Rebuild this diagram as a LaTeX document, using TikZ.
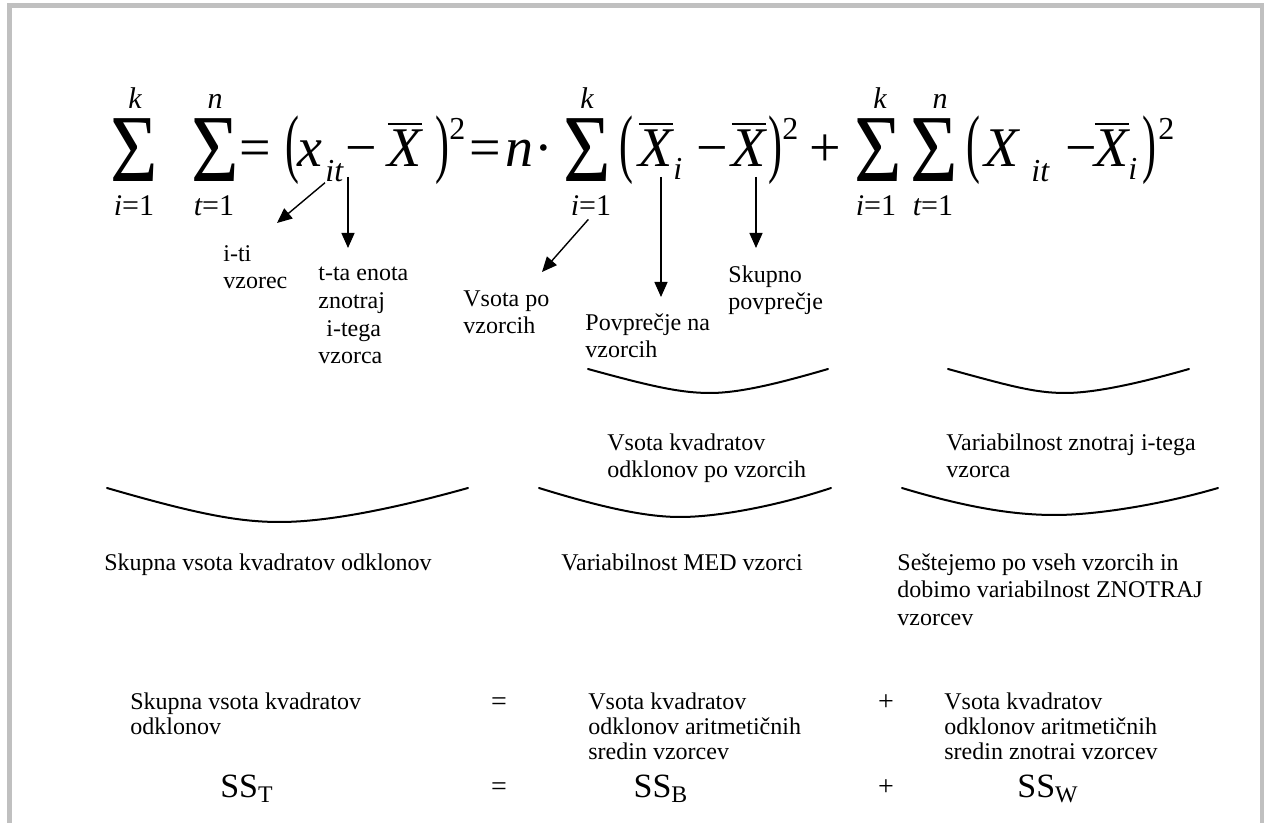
\documentclass[tikz,border=0pt]{standalone}
\usepackage{fontspec}
\setmainfont{Liberation Serif}
\usetikzlibrary{arrows.meta}
\definecolor{framegray}{RGB}{192,192,192}
\newcommand{\obar}[1]{\vbox{\hrule height 1pt\kern 2.5pt\hbox{#1}}}

\begin{document}
\begin{tikzpicture}[x=0.5pt, y=-0.5pt,
    fml/.style={inner sep=0pt, anchor=base, font=\fontsize{28}{30}\selectfont},
    sig/.style={inner sep=0pt, font=\fontsize{48}{48}\selectfont},
    paren/.style={inner sep=0pt, font=\fontsize{38}{38}\selectfont},
    lim/.style={inner sep=0pt, anchor=base, font=\fontsize{15}{15}\selectfont},
    sub/.style={inner sep=0pt, anchor=base west, font=\fontsize{16}{16}\selectfont},
    txt/.style={inner sep=0pt, anchor=north west, align=left, font=\fontsize{12}{13.8}\selectfont},
    btxt/.style={txt, font=\fontsize{12}{12.5}\selectfont},
    big/.style={inner sep=0pt, anchor=base, font=\fontsize{17}{17}\selectfont},
    op/.style={inner sep=0pt, anchor=base, font=\fontsize{14}{14}\selectfont},
    arr/.style={-{Triangle[length=7.5pt,width=6.5pt]}, line width=0.7pt},
    brace/.style={line width=1pt, line cap=round}]
    \useasboundingbox (0,0) rectangle (1264,823);
    \draw[framegray, line width=2.5pt] (9.5,823) -- (9.5,5.5) -- (1262,5.5) -- (1262,823); % page frame

    % formula
    \node[sig] (s1) at (134,150) {\scalebox{0.85}[1]{Σ}};
    \node[lim] (up1) at (135,109) {\itshape k}; \node[lim] (lo1) at (134,216) {{\itshape i}=1};
    \node[sig] (s2) at (215,150) {\scalebox{0.85}[1]{Σ}};
    \node[lim] (up2) at (215,109) {\itshape n}; \node[lim] (lo2) at (214,216) {{\itshape t}=1};
    \node[fml] (eq1) at (255,167) {=};
    \node[paren] (p1) at (292,150) {\scalebox{0.55}[1]{(}};
    \node[fml] (x1) at (310,167) {\itshape x}; \node[sub] (sub1) at (325,182) {\itshape it};
    \node[fml] (m1) at (361,167) {−};
    \node[fml] (xb1) at (405,167) {\itshape\obar{X}};
    \node[paren] (q1) at (442,150) {\scalebox{0.55}[1]{)}}; \node[sub] (sq1) at (449,140) {2};
    \node[fml] (eq2) at (485,167) {=};
    \node[fml] (n1) at (519,167) {\itshape n};
    \node[fml] (dot) at (544,167) {·};
    \node[sig] (s3) at (587,150) {\scalebox{0.85}[1]{Σ}};
    \node[lim] (up3) at (587,109) {\itshape k}; \node[lim] (lo3) at (591,216) {{\itshape i}=1};
    \node[paren] (p2) at (626,150) {\scalebox{0.55}[1]{(}};
    \node[fml] (xb2) at (656,167) {\itshape\obar{X}}; \node[sub] (sub2) at (673,180) {\itshape i};
    \node[fml] (m2) at (712,167) {−};
    \node[fml] (xb3) at (749,167) {\itshape\obar{X}};
    \node[paren] (q2) at (775,150) {\scalebox{0.55}[1]{)}}; \node[sub] (sq2) at (782,140) {2};
    \node[fml] (pl1) at (825,167) {+};
    \node[sig] (s4) at (878,150) {\scalebox{0.85}[1]{Σ}};
    \node[lim] (up4) at (880,109) {\itshape k}; \node[lim] (lo4) at (876,216) {{\itshape i}=1};
    \node[sig] (s5) at (934,150) {\scalebox{0.85}[1]{Σ}};
    \node[lim] (up5) at (940,109) {\itshape n}; \node[lim] (lo5) at (933,216) {{\itshape t}=1};
    \node[paren] (p3) at (973,150) {\scalebox{0.55}[1]{(}};
    \node[fml] (x2) at (1002,167) {\itshape X}; \node[sub] (sub3) at (1031,182) {\itshape it};
    \node[fml] (m3) at (1081,167) {−};
    \node[fml] (xb4) at (1112,167) {\itshape\obar{X}}; \node[sub] (sub4) at (1128,180) {\itshape i};
    \node[paren] (q3) at (1149,150) {\scalebox{0.55}[1]{)}}; \node[sub] (sq3) at (1158,140) {2};

    % labels under the formula
    \node[txt] (ith) at (223,245) {i-ti\\vzorec};
    \node[txt] (tth) at (318,267) {t-ta enota\\znotraj\\\hspace*{4pt}i-tega\\vzorca};
    \node[txt] (vpo) at (463,290) {Vsota po\\vzorcih};
    \node[txt] (pov) at (585,313) {Povprečje na\\vzorcih};
    \node[txt] (skp) at (728,265) {Skupno\\povprečje};
    \coordinate (tipA) at (277,223); \coordinate (tipB) at (348,248);
    \coordinate (tipC) at (542,272); \coordinate (tipD) at (661,297); \coordinate (tipE) at (756,248);
    \draw[arr] (sub1.south west) -- (tipA);
    \draw[arr, shorten <=5pt] (tipB |- x1.base) -- (tipB);
    \draw[arr, shorten <=2pt] (lo3.south) -- (tipC);
    \draw[arr, shorten <=5pt] (tipD |- xb2.base) -- (tipD);
    \draw[arr, shorten <=5pt] (tipE |- xb3.base) -- (tipE);

    % upper braces
    \draw[brace] (588,369) .. controls (650,386) and (680,393) .. (710,393) .. controls (740,393) and (780,383) .. (828,369);
    \draw[brace] (948,369) .. controls (1010,386) and (1035,393) .. (1065,393) .. controls (1095,393) and (1140,383) .. (1189,369);
    \node[txt] (vkv) at (607,433) {Vsota kvadratov\\odklonov po vzorcih};
    \node[txt] (vzn) at (946,433) {Variabilnost znotraj i-tega\\vzorca};

    % lower braces
    \draw[brace] (107,488) .. controls (200,515) and (240,522) .. (280,522) .. controls (330,522) and (400,507) .. (468,488);
    \draw[brace] (539,488) .. controls (610,510) and (650,517) .. (680,517) .. controls (720,517) and (780,505) .. (831,488);
    \draw[brace] (902,488) .. controls (975,510) and (1020,515) .. (1055,515) .. controls (1095,515) and (1160,505) .. (1218,488);
    \node[txt] (svk) at (104,553) {Skupna vsota kvadratov odklonov};
    \node[txt] (med) at (561,553) {Variabilnost MED vzorci};
    \node[txt] (ses) at (897,553) {Seštejemo po vseh vzorcih in\\dobimo variabilnost ZNOTRAJ\\vzorcev};

    % summary
    \node[btxt] (bsk) at (130,692) {Skupna vsota kvadratov\\odklonov};
    \node[op] (beq) at (499,710) {=};
    \node[btxt] (bvb) at (588,692) {Vsota kvadratov\\odklonov aritmetičnih\\sredin vzorcev};
    \node[op] (bpl) at (886,710) {+};
    \node[btxt] (bvw) at (944,692) {Vsota kvadratov\\odklonov aritmetičnih\\sredin znotrai vzorcev};
    \node[big] (sst) at (247,797) {SS\textsubscript{T}};
    \node[op] (seq) at (499,795) {=};
    \node[big] (ssb) at (661,797) {SS\textsubscript{B}};
    \node[op] (spl) at (886,795) {+};
    \node[big] (ssw) at (1048,797) {SS\textsubscript{W}};
\end{tikzpicture}
\end{document}
